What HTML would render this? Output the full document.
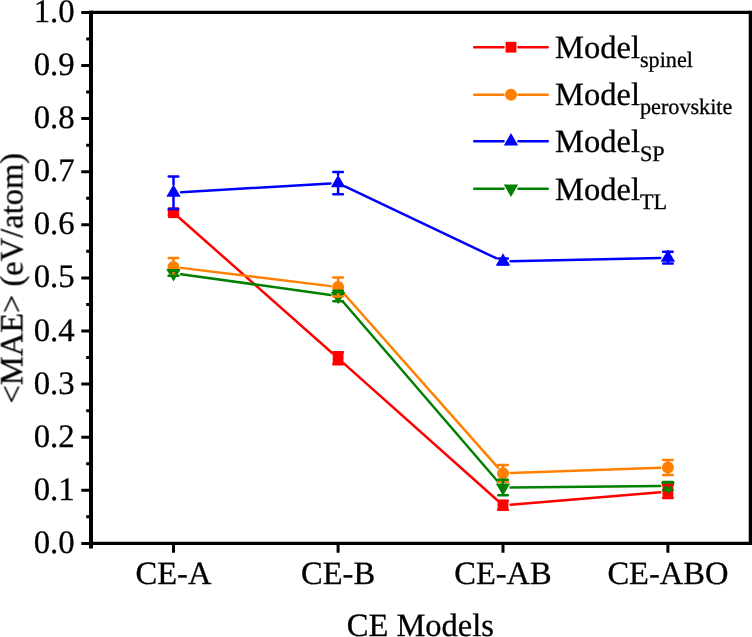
<!DOCTYPE html>
<html><head><meta charset="utf-8"><style>
html,body{margin:0;padding:0;background:#fff;}
svg{display:block;}
text{text-rendering:geometricPrecision;}
.t{opacity:0.999;}
text{font-family:"Liberation Serif",serif;font-size:32.5px;fill:#000;stroke:#000;stroke-width:0.3px;}
</style></head><body>
<svg width="752" height="637" viewBox="0 0 752 637">
<rect width="752" height="637" fill="#fff"/>
<path d="M179.19 217.74L332.41 353.26M343.77 363.36L497.33 500.24M510.57 504.67L660.33 492.13" stroke="#FF0000" stroke-width="2.5" fill="none" stroke-linecap="round"/>
<rect x="168.10" y="207.30" width="10.8" height="10.8" fill="#FF0000"/>
<rect x="332.70" y="352.90" width="10.8" height="10.8" fill="#FF0000"/>
<rect x="497.60" y="499.90" width="10.8" height="10.8" fill="#FF0000"/>
<rect x="662.50" y="486.10" width="10.8" height="10.8" fill="#FF0000"/>
<path d="M181.04 267.87L330.56 286.13M343.14 292.74L497.96 467.66M510.60 473.08L660.30 467.67" stroke="#FF8000" stroke-width="2.5" fill="none" stroke-linecap="round"/>
<circle cx="173.50" cy="266.95" r="6.0" fill="#FF8000"/>
<circle cx="338.10" cy="287.05" r="6.0" fill="#FF8000"/>
<circle cx="503.00" cy="473.35" r="6.0" fill="#FF8000"/>
<circle cx="667.90" cy="467.40" r="6.0" fill="#FF8000"/>
<path d="M181.09 192.26L330.51 183.49M344.96 186.31L496.14 258.24M510.60 261.32L660.30 257.88" stroke="#0000FF" stroke-width="2.5" fill="none" stroke-linecap="round"/>
<path d="M173.50 184.50L180.70 196.80L166.30 196.80Z" fill="#0000FF"/>
<path d="M338.10 174.85L345.30 187.15L330.90 187.15Z" fill="#0000FF"/>
<path d="M503.00 253.30L510.20 265.60L495.80 265.60Z" fill="#0000FF"/>
<path d="M667.90 249.50L675.10 261.80L660.70 261.80Z" fill="#0000FF"/>
<path d="M181.03 274.24L330.57 294.96M343.06 301.76L498.04 481.74M510.60 487.43L660.30 486.07" stroke="#008000" stroke-width="2.5" fill="none" stroke-linecap="round"/>
<path d="M173.50 281.40L180.70 269.10L166.30 269.10Z" fill="#008000"/>
<path d="M338.10 304.20L345.30 291.90L330.90 291.90Z" fill="#008000"/>
<path d="M503.00 495.70L510.20 483.40L495.80 483.40Z" fill="#008000"/>
<path d="M667.90 494.20L675.10 481.90L660.70 481.90Z" fill="#008000"/>
<path d="M168.70 210.70H178.30M168.70 214.70H178.30M333.30 352.30H342.90M333.30 364.30H342.90M338.10 352.30V352.90M338.10 363.70V364.30M498.20 500.80H507.80M498.20 509.80H507.80M663.10 485.00H672.70M663.10 498.00H672.70M667.90 485.00V486.10M667.90 496.90V498.00" stroke="#FF0000" stroke-width="2.5" fill="none" stroke-linecap="round"/>
<path d="M168.70 258.10H178.30M168.70 275.80H178.30M173.50 258.10V260.95M173.50 272.95V275.80M333.30 277.55H342.90M333.30 296.55H342.90M338.10 277.55V281.05M338.10 293.05V296.55M498.20 464.90H507.80M498.20 481.80H507.80M503.00 464.90V467.35M503.00 479.35V481.80M663.10 459.90H672.70M663.10 474.90H672.70M667.90 459.90V461.40M667.90 473.40V474.90" stroke="#FF8000" stroke-width="2.5" fill="none" stroke-linecap="round"/>
<path d="M168.70 176.50H178.30M168.70 208.90H178.30M173.50 176.50V184.50M173.50 196.80V208.90M333.30 171.90H342.90M333.30 194.20H342.90M338.10 171.90V174.85M338.10 187.15V194.20M498.20 258.50H507.80M498.20 264.50H507.80M663.10 251.80H672.70M663.10 263.60H672.70M667.90 261.80V263.60" stroke="#0000FF" stroke-width="2.5" fill="none" stroke-linecap="round"/>
<path d="M168.70 270.60H178.30M168.70 275.80H178.30M333.30 290.70H342.90M333.30 301.30H342.90M338.10 290.70V291.90M498.20 479.70H507.80M498.20 495.30H507.80M503.00 479.70V483.40M663.10 482.00H672.70M663.10 490.00H672.70" stroke="#008000" stroke-width="2.5" fill="none" stroke-linecap="round"/>
<path d="M89.0 12.4H750.0M89.0 543.4H750.0" stroke="#000" stroke-width="3.2" fill="none"/><path d="M91.0 10.8V548.4" stroke="#000" stroke-width="4" fill="none"/><path d="M750.5 10.8V545.0" stroke="#000" stroke-width="3.6" fill="none"/><path d="M81.3 543.40H91.0M81.3 490.30H91.0M81.3 437.20H91.0M81.3 384.10H91.0M81.3 331.00H91.0M81.3 277.90H91.0M81.3 224.80H91.0M81.3 171.70H91.0M81.3 118.60H91.0M81.3 65.50H91.0M81.3 12.40H91.0M86.2 516.85H91.0M86.2 463.75H91.0M86.2 410.65H91.0M86.2 357.55H91.0M86.2 304.45H91.0M86.2 251.35H91.0M86.2 198.25H91.0M86.2 145.15H91.0M86.2 92.05H91.0M86.2 38.95H91.0M173.5 543.4V552.8M338.1 543.4V552.8M503.0 543.4V552.8M667.9 543.4V552.8" stroke="#000" stroke-width="3" fill="none"/>
<g class="t"><text x="74.7" y="552.90" text-anchor="end" style="font-size:32.8px">0.0</text><text x="74.7" y="499.80" text-anchor="end" style="font-size:32.8px">0.1</text><text x="74.7" y="446.70" text-anchor="end" style="font-size:32.8px">0.2</text><text x="74.7" y="393.60" text-anchor="end" style="font-size:32.8px">0.3</text><text x="74.7" y="340.50" text-anchor="end" style="font-size:32.8px">0.4</text><text x="74.7" y="287.40" text-anchor="end" style="font-size:32.8px">0.5</text><text x="74.7" y="234.30" text-anchor="end" style="font-size:32.8px">0.6</text><text x="74.7" y="181.20" text-anchor="end" style="font-size:32.8px">0.7</text><text x="74.7" y="128.10" text-anchor="end" style="font-size:32.8px">0.8</text><text x="74.7" y="75.00" text-anchor="end" style="font-size:32.8px">0.9</text><text x="74.7" y="21.90" text-anchor="end" style="font-size:32.8px">1.0</text><text x="173.5" y="584.4" text-anchor="middle">CE-A</text><text x="338.1" y="584.4" text-anchor="middle">CE-B</text><text x="503.0" y="584.4" text-anchor="middle">CE-AB</text><text x="667.9" y="584.4" text-anchor="middle">CE-ABO</text><text x="420.4" y="636.1" text-anchor="middle">CE Models</text><text transform="translate(22.4 278.3) rotate(-90)" text-anchor="middle">&lt;MAE&gt; (eV/atom)</text>
<path d="M474.2 47.2H503.6M518.4 47.2H547.8" stroke="#FF0000" stroke-width="2.4" stroke-linecap="round"/><rect x="505.60" y="41.80" width="10.8" height="10.8" fill="#FF0000"/><text x="555.1" y="57.8">Model<tspan font-size="22.2" dy="8.9">spinel</tspan></text><path d="M474.2 94.7H503.6M518.4 94.7H547.8" stroke="#FF8000" stroke-width="2.4" stroke-linecap="round"/><circle cx="511.00" cy="94.70" r="6.0" fill="#FF8000"/><text x="555.1" y="105.1">Model<tspan font-size="22.2" dy="8.9">perovskite</tspan></text><path d="M474.2 141.3H503.6M518.4 141.3H547.8" stroke="#0000FF" stroke-width="2.4" stroke-linecap="round"/><path d="M511.00 133.10L518.20 145.40L503.80 145.40Z" fill="#0000FF"/><text x="555.1" y="152.4">Model<tspan font-size="22.2" dy="8.9">SP</tspan></text><path d="M474.2 188.7H503.6M518.4 188.7H547.8" stroke="#008000" stroke-width="2.4" stroke-linecap="round"/><path d="M511.00 196.90L518.20 184.60L503.80 184.60Z" fill="#008000"/><text x="555.1" y="199.6">Model<tspan font-size="22.2" dy="8.9">TL</tspan></text></g>
</svg>
</body></html>
